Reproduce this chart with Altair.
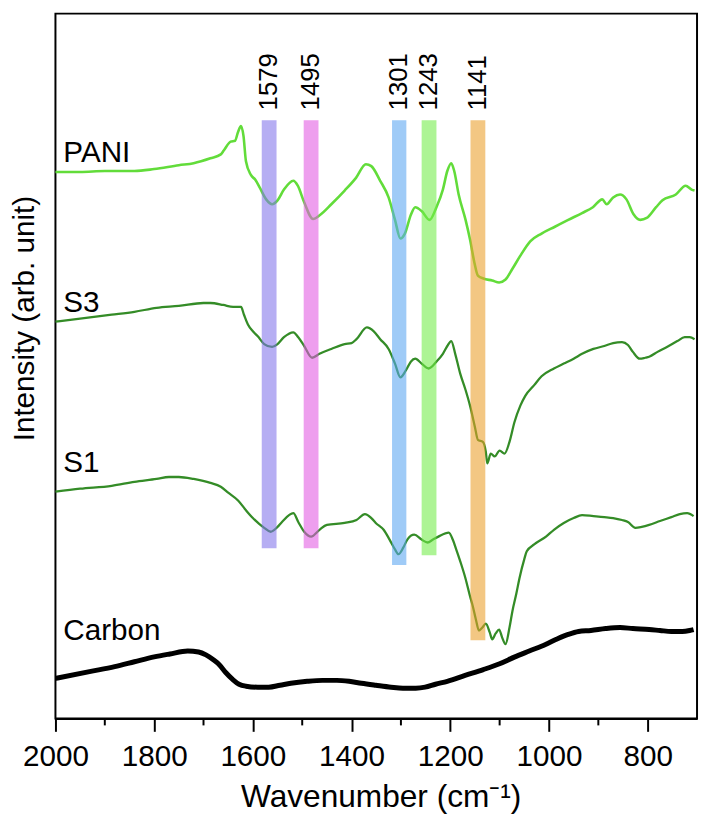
import altair as alt
import pandas as pd

# ---- spectra (wavenumber, intensity in arbitrary units) ----
pani_wn = [2000,1950,1900,1840,1800,1750,1720,1686,1665,1659,1645,1636,1630,1624,1619,1614,1604,1595,1586,1573,
           1561,1550,1537,1518,1509,1496,1478,1464,1441,1414,1391,1371,1360,1342,1325,1312,1301,1292,1280,1271,
           1258,1242,1228,1215,1206,1198,1192,1183,1169,1160,1151,1144,1133,1115,1101,1088,1074,1056,1038,1015,
           988,961,933,911,892,883,870,856,843,829,815,802,783,770,743,723,711,705]
pani_int = [559,559,560,560,562,566,568,573,577,581,590,591,600,606,596,570,556,551,543,531,
            526,530,541,550,545,528,511,515,526,540,553,567,565,550,533,510,491,496,515,523,
            519,510,523,541,560,568,560,536,510,490,466,453,450,448,446,449,460,475,488,496,
            503,510,517,523,531,526,533,536,531,516,510,512,523,530,536,545,541,540]

s3_wn = [2000,1950,1886,1840,1795,1750,1700,1686,1660,1640,1624,1618,1610,1600,1590,1577,1561,1550,1537,1518,
         1508,1496,1480,1465,1441,1414,1400,1390,1369,1355,1342,1325,1312,1301,1290,1280,1271,1258,1244,1228,
         1215,1206,1198,1190,1180,1169,1160,1150,1144,1134,1128,1125,1118,1110,1100,1090,1080,1070,1058,1048,
         1030,1015,990,970,950,933,910,888,870,852,840,830,816,805,797,780,761,740,725,715,705]
s3_int = [406,409,413,416,420,422,425,425,423,421,421,413,403,396,391,383,380,383,390,395,
          390,381,369,373,378,383,384,388,400,396,388,378,363,349,356,365,368,363,358,365,
          373,381,386,373,353,336,320,298,285,283,273,261,271,268,274,271,283,303,320,330,
          341,350,358,363,368,373,378,381,384,385,382,375,368,369,370,375,380,386,390,390,388]

s1_wn = [2000,1950,1886,1840,1795,1770,1750,1720,1686,1665,1650,1630,1614,1600,1577,1564,1550,1541,1518,1508,
         1496,1482,1465,1450,1414,1390,1373,1360,1351,1335,1323,1312,1305,1295,1287,1273,1258,1246,1235,1224,
         1203,1195,1188,1178,1169,1160,1155,1148,1142,1135,1128,1120,1115,1108,1101,1095,1088,1080,1074,1066,
         1060,1050,1045,1030,1006,990,970,950,933,910,888,870,852,840,825,812,797,775,752,735,720,707]
s1_int = [232,235,238,242,245,247,247,245,241,237,231,223,213,205,195,191,196,201,210,201,
          191,186,193,198,200,203,209,205,200,193,183,173,168,175,183,188,183,180,183,186,
          190,183,173,158,143,125,116,101,90,93,97,88,81,87,91,83,76,93,110,128,
          143,163,171,178,186,193,200,205,208,207,206,205,203,201,195,196,198,202,206,209,210,207]

carbon_wn = [2000,1931,1880,1840,1800,1768,1732,1710,1695,1680,1668,1655,1641,1628,1614,1590,1568,1545,1523,1490,
             1459,1430,1405,1380,1351,1320,1296,1270,1251,1230,1206,1170,1133,1100,1069,1040,1006,985,961,940,
             915,885,856,830,797,775,752,730,715,707]
carbon_int = [41,48,53,58,63,66,69,68,65,60,55,47,40,35,33,32,32,34,36,38,
              39,39,38,36,34,32,31,31,32,35,38,44,50,56,63,69,76,81,86,89,
              90,92,93,92,91,90,89,89,90,91]

series_names = ["PANI", "S3", "S1", "Carbon"]
series_colors = ["#62dc3a", "#348c27", "#348c27", "#000000"]
series_widths = [2.6, 2.3, 2.3, 5]
label_level = [569, 416, 252, 80]     # baseline level of each curve's name
label_wn = 1984

# ---- highlighted bands ----
band_names = ["1579", "1495", "1301", "1243", "1141"]
band_left = [1582, 1497, 1318, 1258, 1159]
band_right = [1552, 1467, 1289, 1228, 1129]
band_bottom = [174, 174, 157, 167, 80]
band_top = 612
band_label_level = 622
band_colors = ["#8274ea", "#e25ae2", "#5aa6f2", "#72ec48", "#ea9f2a"]

major_ticks = [2000, 1800, 1600, 1400, 1200, 1000, 800]
minor_ticks = [1900, 1700, 1500, 1300, 1100, 900]

# ---- tables ----
series_data = [pd.DataFrame({"wn": wn, "val": it, "ord": list(range(len(wn)))})
               for wn, it in zip([pani_wn, s3_wn, s1_wn, carbon_wn],
                                 [pani_int, s3_int, s1_int, carbon_int])]

bands_df = pd.DataFrame({
    "band": band_names, "left": band_left, "right": band_right,
    "bottom": band_bottom, "top": [band_top] * len(band_names),
    "center": [(a + b) / 2 for a, b in zip(band_left, band_right)],
    "lab": [band_label_level] * len(band_names),
})
labels_df = pd.DataFrame({"series": series_names, "wn": [label_wn] * 4, "val": label_level})
minor_df = pd.DataFrame({"wn": minor_ticks})

FONT = "Liberation Sans"
W, H = 649, 713
x_scale = alt.Scale(domain=[2000, 700], nice=False, zero=False)
y_scale = alt.Scale(domain=[0, 721], nice=False, zero=False)

x_axis = alt.Axis(values=major_ticks, format="d", tickSize=13, tickWidth=2, tickColor="black",
                  domainColor="black", domainWidth=2, grid=False,
                  labelFont=FONT, labelFontSize=30, labelColor="black", labelPadding=11,
                  labelFlush=False, labelOverlap=False, labelBound=False,
                  title="Wavenumber (cm\u207b\u00b9)", titleFont=FONT, titleFontSize=32,
                  titleFontWeight="normal", titleColor="black", titleX=329, titleY=89,
                  titleAlign="center", titleBaseline="alphabetic")
y_axis = alt.Axis(labels=False, ticks=False, domain=False, grid=False,
                  title="Intensity (arb. unit)", titleFont=FONT, titleFontSize=30,
                  titleFontWeight="normal", titleColor="black", titleAngle=270,
                  titleX=-22, titleY=308, titleAlign="center", titleBaseline="alphabetic")

layers = []
for df, col, sw in zip(series_data, series_colors, series_widths):
    layers.append(alt.Chart(df).mark_line(interpolate="monotone", color=col, strokeWidth=sw).encode(
        x=alt.X("wn:Q", scale=x_scale, axis=x_axis),
        y=alt.Y("val:Q", scale=y_scale, axis=y_axis),
        order="ord:Q",
    ))

bands = alt.Chart(bands_df).mark_rect(opacity=0.58).encode(
    x=alt.X("left:Q", scale=x_scale), x2="right:Q",
    y=alt.Y("bottom:Q", scale=y_scale), y2="top:Q",
    fill=alt.Fill("band:N", scale=alt.Scale(domain=band_names, range=band_colors), legend=None),
)

band_text = alt.Chart(bands_df).mark_text(angle=270, align="left", baseline="middle",
                                          font=FONT, fontSize=26, color="black").encode(
    x=alt.X("center:Q", scale=x_scale), y=alt.Y("lab:Q", scale=y_scale), text="band:N")

curve_text = alt.Chart(labels_df).mark_text(align="left", baseline="alphabetic",
                                            font=FONT, fontSize=30, color="black").encode(
    x=alt.X("wn:Q", scale=x_scale), y=alt.Y("val:Q", scale=y_scale), text="series:N")

minor = alt.Chart(minor_df).mark_rule(color="black", strokeWidth=2).encode(
    x=alt.X("wn:Q", scale=x_scale), y=alt.value(H), y2=alt.value(H + 7))

chart = alt.layer(*layers, bands, band_text, curve_text, minor).properties(
    width=W, height=H,
    autosize=alt.AutoSizeParams(type="none"),
    padding={"left": 48, "top": 1, "right": 3, "bottom": 97},
).configure(background="white", view=alt.ViewConfig(stroke="black", strokeWidth=2))

chart.save("out.html", embed_options={"renderer": "svg", "actions": False})
